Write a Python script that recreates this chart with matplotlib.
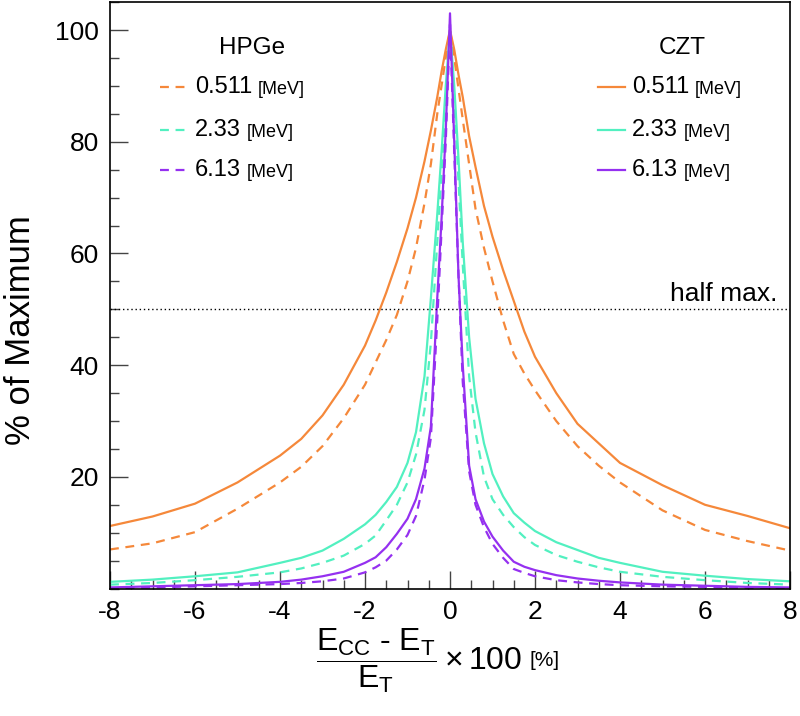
import matplotlib
matplotlib.use("Agg")
import matplotlib.pyplot as plt
from matplotlib.ticker import MultipleLocator

# x position, (E_CC - E_T)/E_T x 100 [%]
x_vals = [-8, -7, -6, -5, -4, -3.5, -3, -2.5, -2, -1.75, -1.5, -1.25, -1,
          -0.8, -0.6, -0.45, -0.3, -0.2, -0.1, 0, 0.1, 0.2, 0.3, 0.45, 0.6,
          0.8, 1, 1.25, 1.5, 1.75, 2, 2.5, 3, 3.5, 4, 5, 6, 7, 8]

# CZT (solid)
czt_511 = [11.2, 12.9, 15.2, 19.0, 23.8, 26.8, 31.0, 36.5, 43.5, 48.0, 53.0,
           58.5, 64.5, 70.0, 76.5, 82.0, 88.0, 92.5, 96.5, 100.0, 96.5, 92.0,
           88.0, 81.0, 75.5, 68.5, 63.0, 57.0, 51.5, 46.0, 41.5, 35.0, 29.5,
           26.0, 22.5, 18.5, 15.0, 13.0, 10.8]
czt_233 = [1.2, 1.6, 2.2, 2.9, 4.6, 5.5, 6.8, 8.9, 11.5, 13.2, 15.5, 18.2,
           22.5, 28.0, 38.0, 52.0, 67.0, 78.0, 90.0, 100.0, 90.0, 77.0, 62.0,
           45.0, 34.0, 26.0, 20.5, 16.5, 13.5, 11.8, 10.3, 8.3, 6.9, 5.5, 4.6,
           3.0, 2.3, 1.7, 1.3]
czt_613 = [0.2, 0.4, 0.6, 0.8, 1.2, 1.6, 2.2, 3.0, 4.6, 5.6, 7.4, 9.8, 12.5,
           16.0, 21.5, 29.0, 52.0, 66.0, 82.0, 103.0, 80.0, 56.0, 40.0, 22.0,
           16.0, 12.0, 9.3, 6.8, 4.8, 3.9, 3.3, 2.4, 1.8, 1.4, 1.1, 0.7, 0.5,
           0.3, 0.2]

# HPGe (dashed)
hpge_511 = [7.0, 8.1, 10.1, 14.3, 19.0, 21.8, 25.5, 30.5, 36.5, 40.5, 44.5,
            49.0, 55.0, 61.0, 69.0, 76.0, 85.0, 90.0, 95.0, 100.0, 95.0, 89.5,
            84.0, 76.0, 68.0, 61.0, 55.0, 48.0, 42.0, 38.5, 35.5, 30.0, 25.5,
            22.0, 19.0, 14.0, 10.5, 8.5, 6.8]
hpge_233 = [0.7, 1.0, 1.5, 2.1, 2.9, 3.6, 4.6, 5.9, 8.0, 9.5, 12.2, 15.0,
            19.0, 24.0, 32.0, 44.0, 62.0, 74.0, 88.0, 100.0, 88.0, 73.0, 58.0,
            38.0, 28.0, 20.0, 16.0, 13.2, 11.0, 9.2, 7.8, 6.0, 4.8, 3.8, 3.0,
            2.1, 1.5, 1.0, 0.7]
hpge_613 = [0.05, 0.2, 0.4, 0.6, 0.8, 1.0, 1.3, 1.8, 2.9, 3.8, 5.0, 7.0, 9.6,
            13.0, 19.5, 27.0, 48.0, 64.0, 80.0, 101.0, 78.0, 56.0, 37.0, 21.0,
            15.0, 11.0, 8.0, 5.5, 3.5, 2.8, 2.2, 1.5, 1.1, 0.8, 0.6, 0.4, 0.3,
            0.15, 0.05]

energies = ["0.511", "2.33", "6.13"]
colors = ["#f5883a", "#52f0c0", "#9530f0"]

plt.rcParams["font.family"] = ["Liberation Sans", "DejaVu Sans"]
plt.rcParams["axes.unicode_minus"] = False
plt.rcParams["mathtext.fontset"] = "custom"
plt.rcParams["mathtext.rm"] = "Liberation Sans"
plt.rcParams["mathtext.it"] = "Liberation Sans"

fig = plt.figure(figsize=(8, 7.16), dpi=100)
ax = fig.add_axes([0.1375, 0.178, 0.85, 0.819])

czt = [czt_511, czt_233, czt_613]
hpge = [hpge_511, hpge_233, hpge_613]

for ys, c in zip(hpge, colors):
    ax.plot(x_vals, ys, color=c, lw=1.6, ls=(0, (4, 3)))
for ys, c in zip(czt, colors):
    ax.plot(x_vals, ys, color=c, lw=1.6)

ax.axhline(50, color="black", lw=1, ls=(0, (1, 2)))
ax.text(0.982, 0.49, "half max.", transform=ax.transAxes, ha="right",
        va="baseline", fontsize=19)

ax.set_xlim(-8, 8)
ax.set_ylim(0, 105)

ax.xaxis.set_major_locator(MultipleLocator(2))
ax.xaxis.set_minor_locator(MultipleLocator(0.5))
ax.yaxis.set_minor_locator(MultipleLocator(5))
ax.set_yticks([20, 40, 60, 80, 100])
ax.tick_params(which="both", direction="in", top=False, right=False,
               color="#444444", width=1)
ax.tick_params(which="major", length=13, labelsize=19, pad=8)
ax.tick_params(which="minor", length=6.5)

for sp in ax.spines.values():
    sp.set_linewidth(1.2)

ax.set_ylabel("% of Maximum", fontsize=25)
ax.yaxis.set_label_coords(-0.108, 0.44)

xl = ax.text(0.455, -0.065,
             "$\\dfrac{E_{CC}\\ \u2010\\ E_{T}}{E_{T}}\\times 100$",
             transform=ax.transAxes, ha="center", va="top", fontsize=23)
ax.annotate("[%]", xy=(1, 0.5), xycoords=xl, xytext=(5, 0),
            textcoords="offset points", ha="left", va="center", fontsize=15)

# legends drawn by hand: HPGe on the left, CZT on the right
rows = [0.855, 0.782, 0.713]
ax.text(0.209, 0.922, "HPGe", transform=ax.transAxes, ha="center",
        va="center", fontsize=17.5)
ax.text(0.841, 0.922, "CZT", transform=ax.transAxes, ha="center",
        va="center", fontsize=17.5)
for e, c, yr in zip(energies, colors, rows):
    ax.plot([0.074, 0.112], [yr, yr], transform=ax.transAxes, color=c,
            lw=1.6, ls=(0, (4, 3)))
    t = ax.text(0.125, yr, e, transform=ax.transAxes, ha="left",
                va="center", fontsize=17)
    ax.annotate("[MeV]", xy=(1, 0), xycoords=t, xytext=(4, 0),
                textcoords="offset points", ha="left", va="bottom",
                fontsize=13)
    ax.plot([0.718, 0.757], [yr, yr], transform=ax.transAxes, color=c,
            lw=1.6)
    t = ax.text(0.768, yr, e, transform=ax.transAxes, ha="left",
                va="center", fontsize=17)
    ax.annotate("[MeV]", xy=(1, 0), xycoords=t, xytext=(4, 0),
                textcoords="offset points", ha="left", va="bottom",
                fontsize=13)

fig.savefig("out.png", dpi=100)
